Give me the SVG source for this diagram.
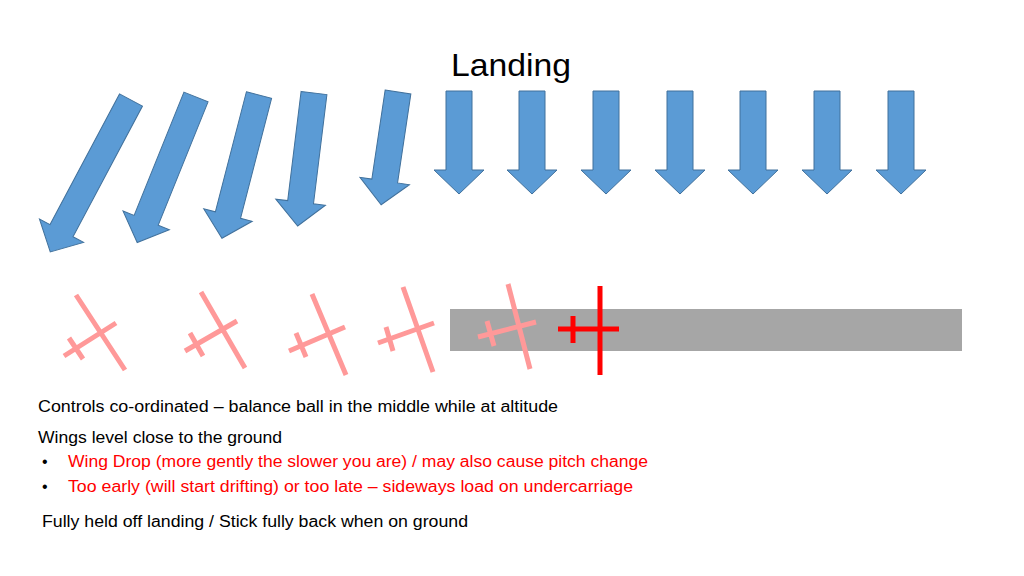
<svg xmlns="http://www.w3.org/2000/svg" width="1024" height="576" viewBox="0 0 1024 576">
<style>
.ar{fill:#5b9bd5;stroke:#41719c;stroke-width:1}
.pk{stroke:#ff9999;stroke-width:5;stroke-linecap:butt}
.rd{stroke:#ff0000;stroke-width:5}
text{font-family:"Liberation Sans",Arial,sans-serif}
.b{font-size:16px;fill:#000}
.r{font-size:16px;fill:#ff0000}
</style>
<rect width="1024" height="576" fill="#fff"/>
<text x="511" y="76" font-size="32" text-anchor="middle" textLength="120" lengthAdjust="spacingAndGlyphs">Landing</text>
<g id="arrows">
<path class="ar" transform="translate(131,100) rotate(28)" d="M-13,0H13V148H25L0,172L-25,148H-13Z"/>
<path class="ar" transform="translate(196,97) rotate(22)" d="M-13,0H13V133H25L0,157L-25,133H-13Z"/>
<path class="ar" transform="translate(259,95) rotate(14.5)" d="M-13,0H13V124H25L0,148L-25,124H-13Z"/>
<path class="ar" transform="translate(314,93) rotate(7)" d="M-13,0H13V110H25L0,134L-25,110H-13Z"/>
<path class="ar" transform="translate(398,92) rotate(8.5)" d="M-13,0H13V90H25L0,114L-25,90H-13Z"/>
<path class="ar" transform="translate(459,91)" d="M-13,0H13V79H25L0,103L-25,79H-13Z"/>
<path class="ar" transform="translate(532,91)" d="M-13,0H13V79H25L0,103L-25,79H-13Z"/>
<path class="ar" transform="translate(606,91)" d="M-13,0H13V79H25L0,103L-25,79H-13Z"/>
<path class="ar" transform="translate(680,91)" d="M-13,0H13V79H25L0,103L-25,79H-13Z"/>
<path class="ar" transform="translate(753,91)" d="M-13,0H13V79H25L0,103L-25,79H-13Z"/>
<path class="ar" transform="translate(827,91)" d="M-13,0H13V79H25L0,103L-25,79H-13Z"/>
<path class="ar" transform="translate(901,91)" d="M-13,0H13V79H25L0,103L-25,79H-13Z"/>
</g>
<rect id="runway" x="450" y="309" width="512" height="42" fill="#a6a6a6"/>
<g id="aircraft">
<path class="pk" d="M76,295L125,370M64,356L116,323M69,338L83,359"/>
<path class="pk" d="M201,292L245,368M185,351L237,321M190,333L203,356"/>
<path class="pk" d="M312,294L346,375M289,351L345,327M296,333L306,357"/>
<path class="pk" d="M403,287L433,372M378,343L434,323M386,327L393,351"/>
<path class="pk" d="M508,284L530,369M478,337L536,322M487,321L494,346"/>
<path class="rd" d="M600,286V375M558,329H619M573,316V343"/>
</g>
<g id="texts">
<text class="b" x="38" y="412" textLength="520" lengthAdjust="spacingAndGlyphs">Controls co-ordinated – balance ball in the middle while at altitude</text>
<text class="b" x="38" y="443" textLength="244" lengthAdjust="spacingAndGlyphs">Wings level close to the ground</text>
<text class="b" x="42" y="467">•</text>
<text class="r" x="68" y="467" textLength="580" lengthAdjust="spacingAndGlyphs">Wing Drop (more gently the slower you are) / may also cause pitch change</text>
<text class="b" x="42" y="492">•</text>
<text class="r" x="68" y="492" textLength="565" lengthAdjust="spacingAndGlyphs">Too early (will start drifting) or too late – sideways load on undercarriage</text>
<text class="b" x="42" y="527" textLength="426" lengthAdjust="spacingAndGlyphs">Fully held off landing / Stick fully back when on ground</text>
</g>
</svg>
